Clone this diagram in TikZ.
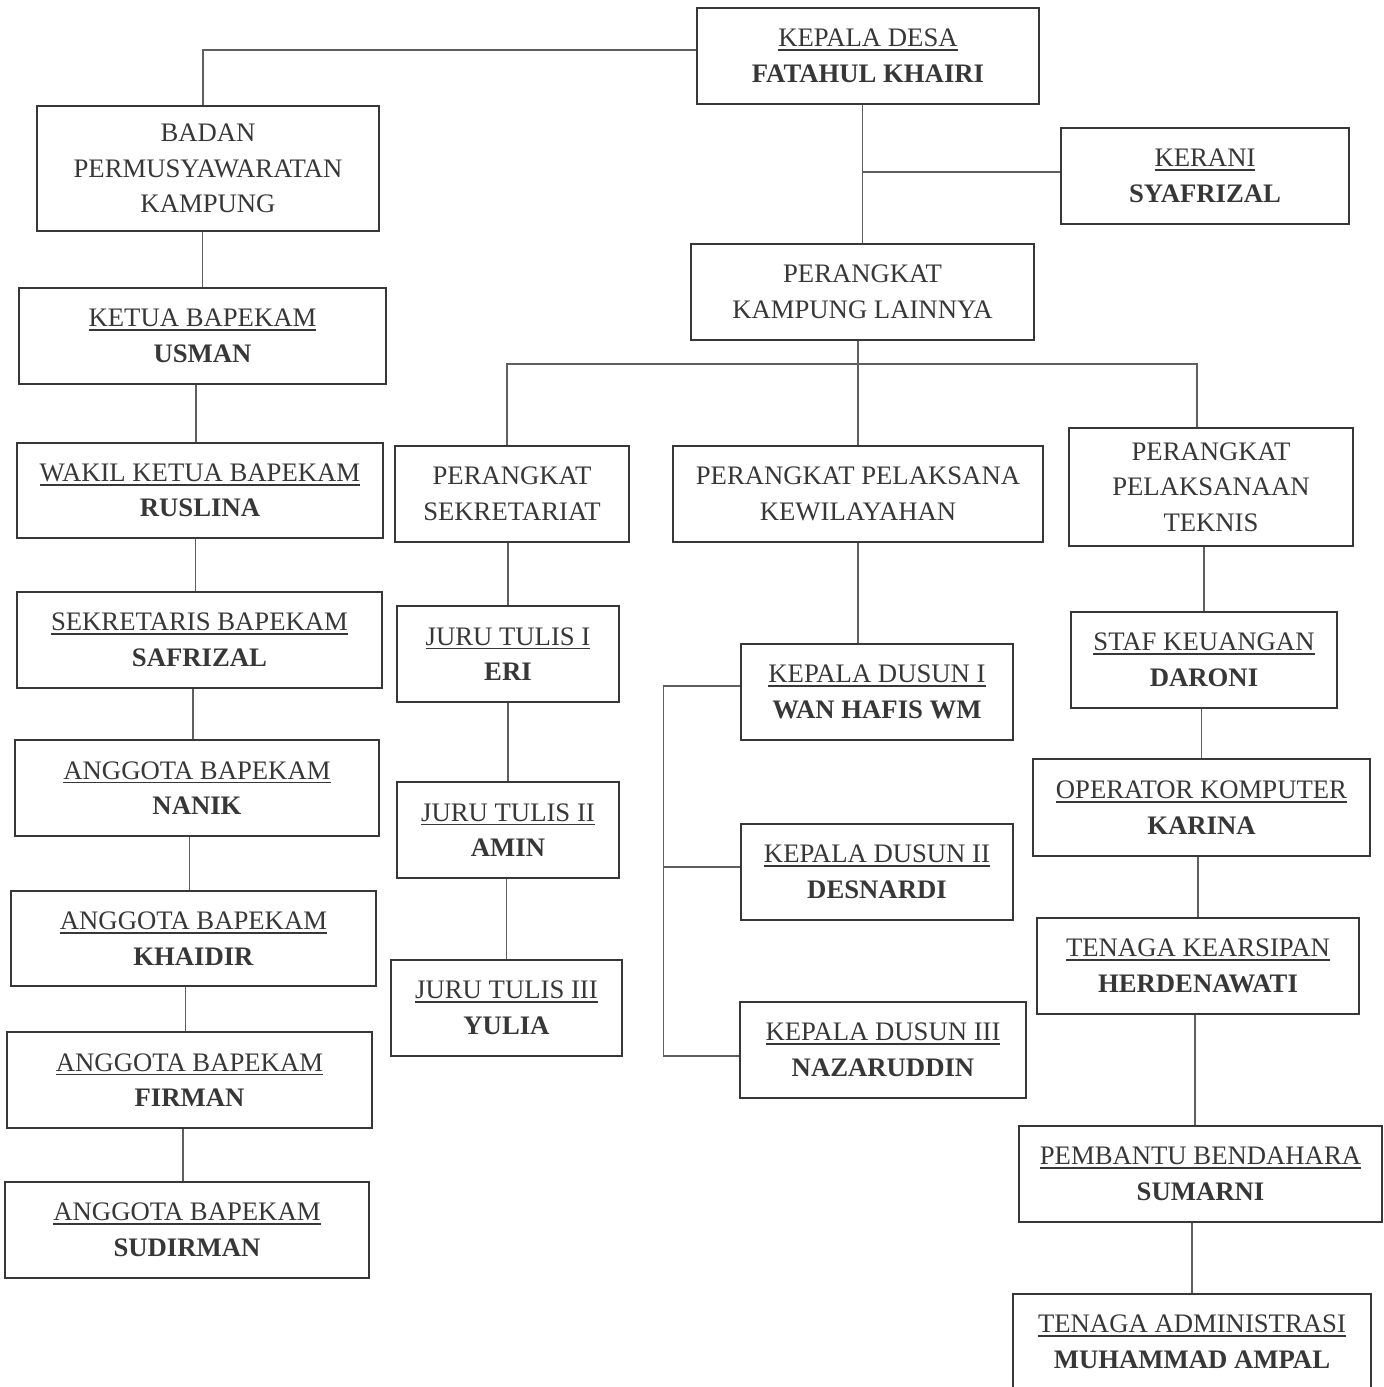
\documentclass[tikz,border=0pt]{standalone}
\usepackage{fontspec}
\setmainfont{Liberation Serif}
\usepackage{xcolor}
\usepackage{tikz}
\definecolor{inkgray}{RGB}{55, 55, 55}
\definecolor{boxgray}{RGB}{55, 55, 55}
\definecolor{linegray}{RGB}{95, 95, 95}
\usetikzlibrary{positioning, calc}
\newcommand{\uln}[1]{\setbox0\hbox{#1}\rlap{\rule[-1.2pt]{\wd0}{0.5pt}}\box0}

\begin{document}
\begin{tikzpicture}[
    unit/.style={rectangle, draw=boxgray, line width=0.7pt, minimum height=0.96cm, inner sep=0pt, align=center, text=inkgray, font=\fontsize{7.6pt}{10.1pt}\selectfont},
    link/.style={draw=linegray, line width=0.3pt}
]
    \useasboundingbox[fill=white] (0,0) rectangle (13.84,-13.87);

    % Pimpinan
    \node[unit, minimum width=3.42cm] (desa) at (8.68,-0.56) {\uln{KEPALA DESA}\\\textbf{FATAHUL KHAIRI}};
    \node[unit, minimum width=2.88cm] (kerani) at (12.05,-1.76) {\uln{KERANI}\\\textbf{SYAFRIZAL}};
    \node[unit, minimum width=3.43cm] (lainnya) at (8.625,-2.92) {PERANGKAT\\KAMPUNG LAINNYA};

    % Bapekam
    \node[unit, minimum width=3.42cm, minimum height=1.25cm] (bpk) at (2.08,-1.685) {BADAN\\PERMUSYAWARATAN\\KAMPUNG};
    \node[unit, minimum width=3.67cm] (ketua) at (2.025,-3.36) {\uln{KETUA BAPEKAM}\\\textbf{USMAN}};
    \node[unit, minimum width=3.66cm, minimum height=0.95cm] (wakil) at (2.00,-4.905) {\uln{WAKIL KETUA BAPEKAM}\\\textbf{RUSLINA}};
    \node[unit, minimum width=3.65cm] (sekbap) at (1.995,-6.40) {\uln{SEKRETARIS BAPEKAM}\\\textbf{SAFRIZAL}};
    \node[unit, minimum width=3.64cm] (nanik) at (1.97,-7.88) {\uln{ANGGOTA BAPEKAM}\\\textbf{NANIK}};
    \node[unit, minimum width=3.65cm, minimum height=0.95cm] (khaidir) at (1.935,-9.385) {\uln{ANGGOTA BAPEKAM}\\\textbf{KHAIDIR}};
    \node[unit, minimum width=3.65cm] (firman) at (1.895,-10.80) {\uln{ANGGOTA BAPEKAM}\\\textbf{FIRMAN}};
    \node[unit, minimum width=3.64cm] (sudirman) at (1.87,-12.30) {\uln{ANGGOTA BAPEKAM}\\\textbf{SUDIRMAN}};

    % Perangkat
    \node[unit, minimum width=2.34cm] (sekre) at (5.12,-4.94) {PERANGKAT\\SEKRETARIAT};
    \node[unit, minimum width=3.70cm] (wilayah) at (8.58,-4.94) {PERANGKAT PELAKSANA\\KEWILAYAHAN};
    \node[unit, minimum width=2.84cm, minimum height=1.18cm] (teknis) at (12.11,-4.87) {PERANGKAT\\PELAKSANAAN\\TEKNIS};

    % Sekretariat
    \node[unit, minimum width=2.22cm] (tulis1) at (5.08,-6.54) {\uln{JURU TULIS I}\\\textbf{ERI}};
    \node[unit, minimum width=2.22cm] (tulis2) at (5.08,-8.30) {\uln{JURU TULIS II}\\\textbf{AMIN}};
    \node[unit, minimum width=2.31cm] (tulis3) at (5.065,-10.08) {\uln{JURU TULIS III}\\\textbf{YULIA}};

    % Kewilayahan
    \node[unit, minimum width=2.72cm] (dusun1) at (8.77,-6.92) {\uln{KEPALA DUSUN I}\\\textbf{WAN HAFIS WM}};
    \node[unit, minimum width=2.72cm] (dusun2) at (8.77,-8.72) {\uln{KEPALA DUSUN II}\\\textbf{DESNARDI}};
    \node[unit, minimum width=2.86cm] (dusun3) at (8.83,-10.50) {\uln{KEPALA DUSUN III}\\\textbf{NAZARUDDIN}};

    % Teknis
    \node[unit, minimum width=2.66cm] (staf) at (12.04,-6.60) {\uln{STAF KEUANGAN}\\\textbf{DARONI}};
    \node[unit, minimum width=3.37cm, minimum height=0.97cm] (operator) at (12.015,-8.075) {\uln{OPERATOR KOMPUTER}\\\textbf{KARINA}};
    \node[unit, minimum width=3.22cm] (arsip) at (11.98,-9.66) {\uln{TENAGA KEARSIPAN}\\\textbf{HERDENAWATI}};
    \node[unit, minimum width=3.63cm] (bendahara) at (12.005,-11.74) {\uln{PEMBANTU BENDAHARA}\\\textbf{SUMARNI}};
    \node[unit, minimum width=3.58cm] (admin) at (11.92,-13.42) {\uln{TENAGA ADMINISTRASI}\\\textbf{MUHAMMAD AMPAL}};

    % Garis
    \coordinate (bus) at (8.57,-3.64);
    \draw[link] ([yshift=0.06cm]desa.west) -| ([xshift=-0.05cm]bpk.north);
    \draw[link] (lainnya.north) -- (lainnya.north |- desa.south);
    \draw[link] ([yshift=0.04cm]kerani.west) -- ([yshift=0.04cm]kerani.west -| lainnya.north);
    \draw[link] (wilayah.north) -- (wilayah.north |- lainnya.south);
    \draw[link] ([xshift=-0.05cm]sekre.north) |- (bus) -| ([xshift=-0.14cm]teknis.north);

    \draw[link] (ketua.north) -- (ketua.north |- bpk.south);
    \foreach \a/\b in {ketua/wakil, wakil/sekbap, sekbap/nanik, nanik/khaidir, khaidir/firman, firman/sudirman}
        \draw[link] ([xshift=-0.04cm]\b.north) -- ([xshift=-0.04cm]\b.north |- \a.south);

    \draw[link] (tulis1.north) -- (tulis1.north |- sekre.south);
    \draw[link] (tulis2.north) -- (tulis2.north |- tulis1.south);
    \draw[link] (tulis3.north) -- (tulis3.north |- tulis2.south);

    \draw[link] (wilayah.south) -- (wilayah.south |- dusun1.north);
    \draw[link] ([yshift=0.06cm]dusun1.west) -- ++(-0.76,0) |- ([yshift=-0.06cm]dusun3.west);
    \draw[link] ([yshift=0.05cm]dusun2.west) -- ++(-0.76,0);

    \draw[link] (staf.north) -- (staf.north |- teknis.south);
    \draw[link] (operator.north) -- (operator.north |- staf.south);
    \draw[link] (arsip.north) -- (arsip.north |- operator.south);
    \draw[link] ([xshift=-0.03cm]arsip.south) -- ([xshift=-0.03cm]arsip.south |- bendahara.north);
    \draw[link] (admin.north) -- (admin.north |- bendahara.south);
\end{tikzpicture}
\end{document}
